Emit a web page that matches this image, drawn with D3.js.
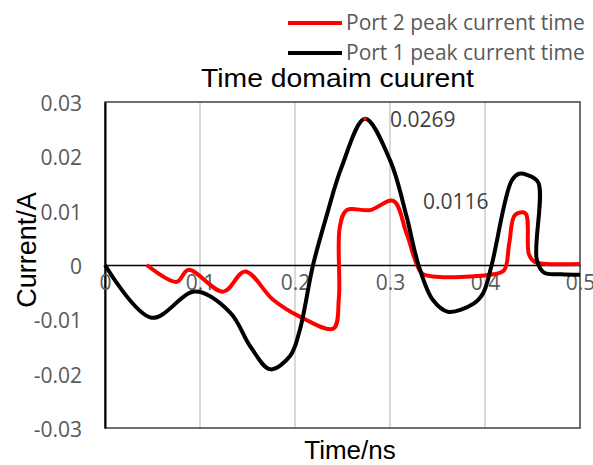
<!DOCTYPE html>
<html>
<head>
<meta charset="utf-8">
<script src="https://cdn.jsdelivr.net/npm/d3@7"></script>
<style>
  body { margin: 0; background: #fff; }
</style>
</head>
<body>
<div id="chart"></div>
<script>
// Port 1 (black) time / current
var timePort1 = [0, 0.049, 0.095, 0.132, 0.153, 0.174, 0.195, 0.205, 0.219, 0.233, 0.249, 0.2737, 0.30, 0.3175, 0.33, 0.345, 0.361, 0.388, 0.398, 0.407, 0.428, 0.436, 0.444, 0.456, 0.4545, 0.462, 0.48, 0.5];
var currentPort1 = [0, -0.0097, -0.0049, -0.0088, -0.015, -0.0192, -0.0167, -0.012, 0, 0.0089, 0.018, 0.0269, 0.0193, 0.0089, 0, -0.0064, -0.0086, -0.0071, -0.0052, 0, 0.0155, 0.0168, 0.0166, 0.0152, 0.001, -0.0014, -0.0017, -0.0018];

// Port 2 (red) time / current
var timePort2 = [0.044, 0.0754, 0.0877, 0.1246, 0.1474, 0.177, 0.205, 0.2404, 0.2462, 0.2472, 0.2544, 0.279, 0.3035, 0.3175, 0.3333, 0.345, 0.405, 0.42, 0.4255, 0.4316, 0.4425, 0.4462, 0.452, 0.5];
var currentPort2 = [0, -0.0031, -0.0009, -0.0049, -0.0012, -0.0064, -0.0095, -0.0117, -0.006, 0.007, 0.0101, 0.0101, 0.0118, 0.0058, -0.0015, -0.0021, -0.0018, -0.001, 0.004, 0.0092, 0.0095, 0.002, 0.0006, 0.0002];

var xTicks = [0, 0.1, 0.2, 0.3, 0.4, 0.5];
var yTicks = [-0.03, -0.02, -0.01, 0, 0.01, 0.02, 0.03];
var peakLabels = [{t: 0.2737, v: 0.0269, text: "0.0269"}, {t: 0.3035, v: 0.0116, text: "0.0116"}];
var legendNames = ["Port 2 peak current time", "Port 1 peak current time"];
var legendColors = ["#ff0000", "#000000"];

var width = 593, height = 465;
var svg = d3.select("#chart").append("svg")
	.attr("width", width)
	.attr("height", height);

var x = d3.scaleLinear().domain([0, 0.5]).range([105, 580]);
var y = d3.scaleLinear().domain([-0.03, 0.03]).range([428, 102]);

// vertical gridlines
svg.selectAll(".grid")
	.data(xTicks.slice(1, -1))
	.enter().append("line")
	.attr("x1", function(d){ return x(d); })
	.attr("x2", function(d){ return x(d); })
	.attr("y1", y(0.03))
	.attr("y2", y(-0.03))
	.attr("stroke", "#d9d9d9")
	.attr("stroke-width", 2);

// plot border
svg.append("rect")
	.attr("x", x(0))
	.attr("y", y(0.03))
	.attr("width", x(0.5) - x(0))
	.attr("height", y(-0.03) - y(0.03))
	.attr("fill", "none")
	.attr("stroke", "#404040")
	.attr("stroke-width", 1.5);

// y axis
var yAxis = svg.append("g")
	.attr("transform", "translate(" + x(0) + ",0)")
	.call(d3.axisLeft(y).tickValues(yTicks).tickSize(0).tickPadding(23)
		.tickFormat(function(d){ return d === 0 ? "0" : d3.format(".2f")(d).replace("−", "-"); }));
yAxis.select(".domain").attr("stroke", "#000").attr("stroke-width", 2);
yAxis.selectAll("text")
	.attr("fill", "#595959")
	.attr("font-family", "'Open Sans', sans-serif")
	.attr("font-size", 21)
	.attr("dy", "0.4em");

// zero line + x tick labels
var xAxis = svg.append("g")
	.attr("transform", "translate(0," + y(0) + ")")
	.call(d3.axisBottom(x).tickValues(xTicks).tickSize(0).tickPadding(25)
		.tickFormat(function(d){ return d === 0 ? "0" : d3.format(".1f")(d); }));
xAxis.select(".domain").attr("stroke", "#000").attr("stroke-width", 1.5);
xAxis.selectAll("text")
	.attr("fill", "#595959")
	.attr("font-family", "'Open Sans', sans-serif")
	.attr("font-size", 21)
	.attr("dy", "0");

var line = d3.line()
	.x(function(d){ return x(d[0]); })
	.y(function(d){ return y(d[1]); })
	.curve(d3.curveCatmullRom.alpha(0.5));

var port2 = timePort2.map(function(t, i){ return [t, currentPort2[i]]; });
var port1 = timePort1.map(function(t, i){ return [t, currentPort1[i]]; });

svg.append("path")
	.datum(port2)
	.attr("d", line)
	.attr("fill", "none")
	.attr("stroke", "#ff0000")
	.attr("stroke-width", 4)
	.attr("stroke-linejoin", "round");

svg.append("path")
	.datum(port1)
	.attr("d", line)
	.attr("fill", "none")
	.attr("stroke", "#000000")
	.attr("stroke-width", 4)
	.attr("stroke-linejoin", "round");

svg.append("circle")
	.attr("cx", x(peakLabels[0].t))
	.attr("cy", y(peakLabels[0].v))
	.attr("r", 2)
	.attr("fill", "#ff0000");

// peak labels
svg.append("text")
	.attr("x", 390).attr("y", 127)
	.attr("fill", "#404040")
	.attr("font-family", "'Open Sans', sans-serif")
	.attr("font-size", 21)
	.text(peakLabels[0].text);
svg.append("text")
	.attr("x", 423).attr("y", 209)
	.attr("fill", "#404040")
	.attr("font-family", "'Open Sans', sans-serif")
	.attr("font-size", 21)
	.text(peakLabels[1].text);

// title
svg.append("text")
	.attr("x", 201).attr("y", 87)
	.attr("font-family", "'Liberation Sans', Arial, sans-serif")
	.attr("font-size", 25)
	.attr("textLength", 273)
	.attr("lengthAdjust", "spacingAndGlyphs")
	.text("Time domaim cuurent");

// axis titles
svg.append("text")
	.attr("transform", "translate(36,250) rotate(-90)")
	.attr("text-anchor", "middle")
	.attr("font-family", "'Liberation Sans', Arial, sans-serif")
	.attr("font-size", 27)
	.text("Current/A");
svg.append("text")
	.attr("x", 350).attr("y", 459)
	.attr("text-anchor", "middle")
	.attr("font-family", "'Liberation Sans', Arial, sans-serif")
	.attr("font-size", 26)
	.text("Time/ns");

// legend
var legend = svg.selectAll(".legend")
	.data(legendNames)
	.enter().append("g")
	.attr("transform", function(d, i){ return "translate(288," + (23 + i * 30) + ")"; });
legend.append("line")
	.attr("x1", 0).attr("x2", 54)
	.attr("stroke", function(d, i){ return legendColors[i]; })
	.attr("stroke-width", 4);
legend.append("text")
	.attr("x", 58).attr("y", 7)
	.attr("fill", "#595959")
	.attr("font-family", "'Open Sans', sans-serif")
	.attr("font-size", 21)
	.text(function(d){ return d; });
</script>
</body>
</html>
